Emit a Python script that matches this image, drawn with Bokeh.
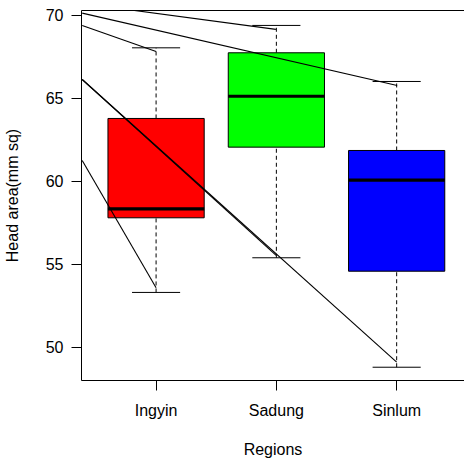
from bokeh.plotting import figure
from bokeh.models import Range1d, FixedTicker, LinearAxis, ColumnDataSource
from bokeh.transform import dodge
from bokeh.embed import file_html
from bokeh.resources import INLINE

# ---- data ----
regions = ["Ingyin", "Sadung", "Sinlum"]
positions = [1, 2, 3]
lower_whisker = [53.30, 55.39, 48.79]
q1 = [57.80, 62.06, 54.58]
median = [58.34, 65.13, 60.07]
q3 = [63.79, 67.75, 61.86]
upper_whisker = [68.05, 69.40, 66.02]
box_colors = ["#FF0000", "#00FF00", "#0000FF"]
y_ticks = [50, 55, 60, 65, 70]

# straight annotation lines (start x, start y, end x, end y)
line_x0 = [0.38, 0.386, 0.386, 0.386, 0.386, 0.386]
line_y0 = [70.73, 70.14, 69.40, 66.14, 66.14, 61.26]
line_x1 = [1.996, 3.004, 1.0, 3.0, 1.998, 1.0]
line_y1 = [69.16, 65.78, 67.83, 49.10, 55.53, 53.58]

FONT = "Liberation Sans"

p = figure(width=464, height=461, output_backend="svg", toolbar_location=None,
           x_range=Range1d(0.38, 3.564), y_range=Range1d(47.99, 70.30),
           min_border_left=81, min_border_right=0, min_border_top=10,
           min_border_bottom=81, background_fill_color="white",
           border_fill_color="white")
p.outline_line_color = None
p.xgrid.visible = False
p.ygrid.visible = False

src = ColumnDataSource(dict(x=positions, lw=lower_whisker, q1=q1, med=median,
                            q3=q3, uw=upper_whisker, color=box_colors))

# whiskers (dashed)
p.segment(x0="x", y0="q3", x1="x", y1="uw", source=src, line_color="black",
          line_width=1, line_dash="4 3")
p.segment(x0="x", y0="lw", x1="x", y1="q1", source=src, line_color="black",
          line_width=1, line_dash="4 3")
# caps
p.segment(x0=dodge("x", -0.2), y0="uw", x1=dodge("x", 0.2), y1="uw",
          source=src, line_color="black", line_width=1)
p.segment(x0=dodge("x", -0.2), y0="lw", x1=dodge("x", 0.2), y1="lw",
          source=src, line_color="black", line_width=1)
# boxes
p.vbar(x="x", width=0.8, bottom="q1", top="q3", source=src, fill_color="color",
       line_color="black", line_width=1)
# medians
p.segment(x0=dodge("x", -0.4), y0="med", x1=dodge("x", 0.4), y1="med",
          source=src, line_color="black", line_width=3.2)

# annotation lines
p.segment(x0=line_x0, y0=line_y0, x1=line_x1, y1=line_y1, line_color="black",
          line_width=1.1)

# axes
xa = p.xaxis[0]
xa.ticker = FixedTicker(ticks=positions)
xa.major_label_overrides = {pos: name for pos, name in zip(positions, regions)}
xa.axis_label = "Regions"
ya = p.yaxis[0]
ya.ticker = FixedTicker(ticks=y_ticks)
ya.axis_label = "Head area(mm sq)"
for ax in (xa, ya):
    ax.minor_tick_line_color = None
    ax.major_tick_in = 0
    ax.major_tick_out = 10
    ax.axis_line_color = "black"
    ax.major_tick_line_color = "black"
    ax.major_label_text_font = FONT
    ax.major_label_text_font_size = "16px"
    ax.major_label_text_color = "black"
    ax.axis_label_text_font = FONT
    ax.axis_label_text_font_size = "16px"
    ax.axis_label_text_font_style = "normal"
    ax.axis_label_text_color = "black"
xa.major_label_standoff = 11
xa.axis_label_standoff = 19
ya.major_label_standoff = 8
ya.axis_label_standoff = 22

top = LinearAxis(major_tick_line_color=None, minor_tick_line_color=None,
                 major_label_text_font_size="0px", axis_line_color="black",
                 ticker=FixedTicker(ticks=[]))
p.add_layout(top, "above")

open("out.html", "w").write(file_html(p, INLINE))
